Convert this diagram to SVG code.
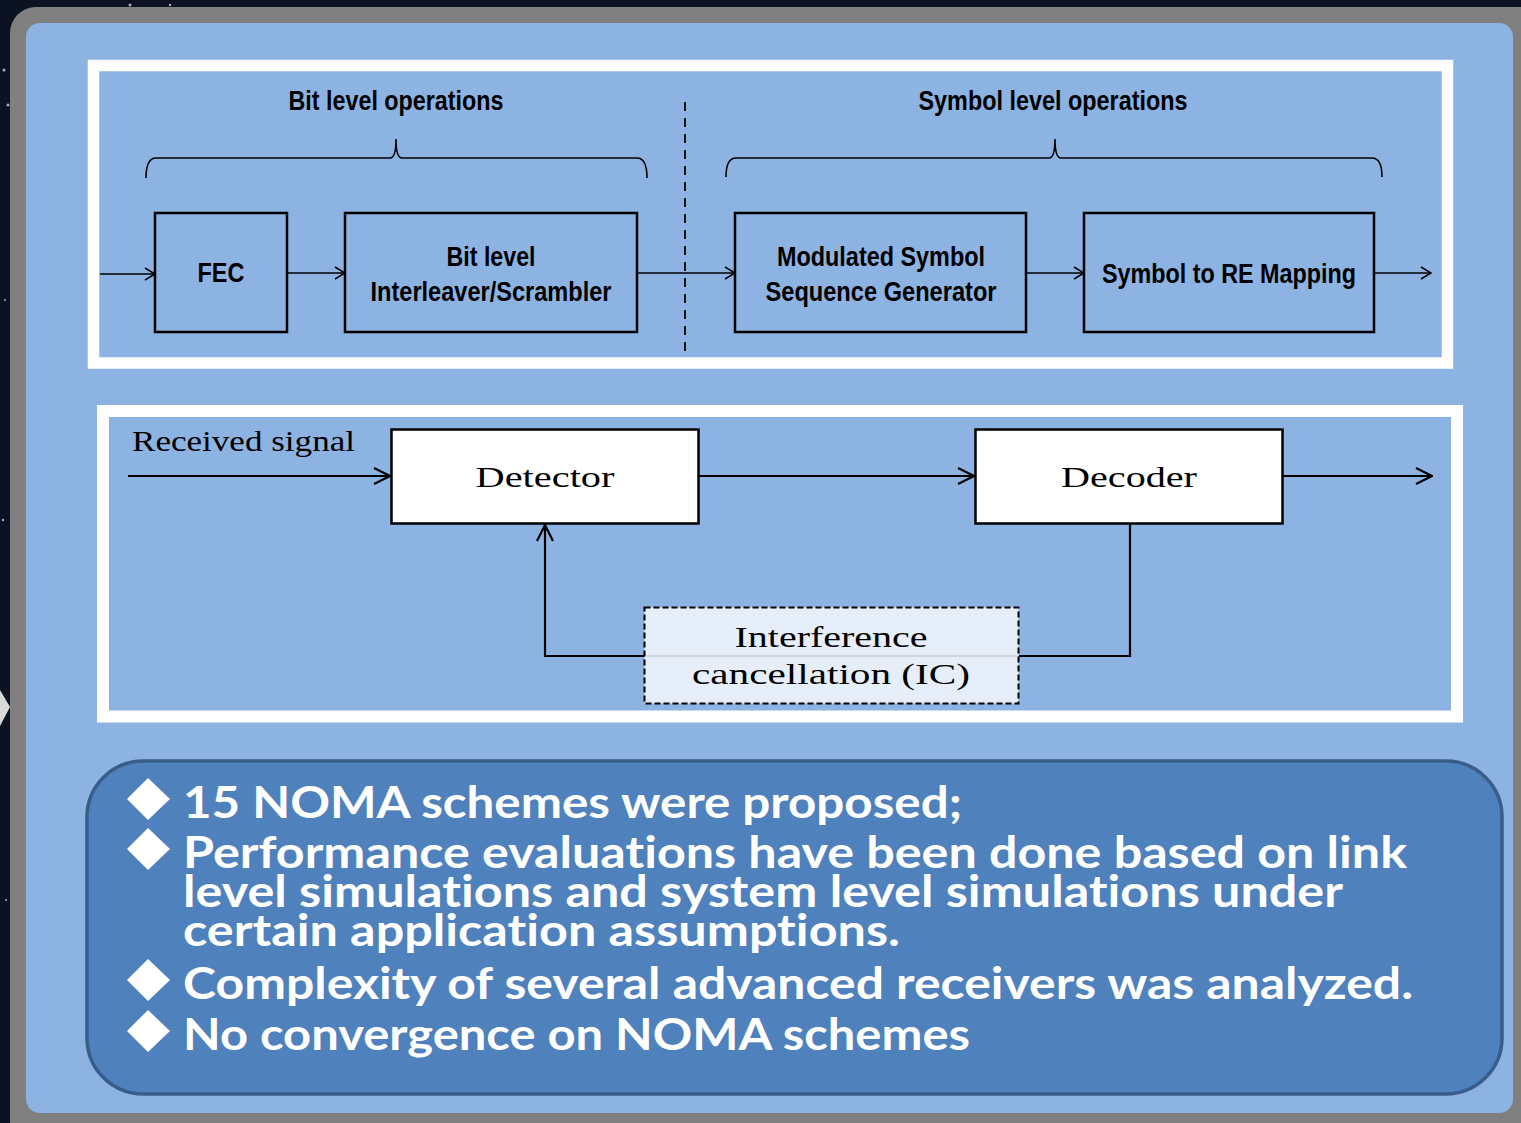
<svg xmlns="http://www.w3.org/2000/svg" width="1521" height="1123" viewBox="0 0 1521 1123">
<defs>
<style>
.box{fill:none;stroke:#000;stroke-width:2.5}
.wbox{fill:#fff;stroke:#000;stroke-width:2.5}
.narrow{font-family:"Liberation Sans",Arial,sans-serif;font-weight:bold;font-size:27px;fill:#000;text-anchor:middle}
.serif{font-family:"Liberation Serif","Times New Roman",serif;font-size:29px;fill:#000}
.bul{font-family:Lato,"Open Sans","Liberation Sans",sans-serif;font-weight:bold;font-size:44px;fill:#fff;font-variant-ligatures:none}
.line1{fill:none;stroke:#000;stroke-width:1.6}
.line2{fill:none;stroke:#000;stroke-width:2.2}
</style>
<marker id="a1" markerWidth="12" markerHeight="14" refX="11" refY="7" orient="auto" markerUnits="userSpaceOnUse">
<path d="M1,1 L11,7 L1,13" fill="none" stroke="#000" stroke-width="1.5"/>
</marker>
<marker id="a2" markerWidth="18" markerHeight="18" refX="17" refY="9" orient="auto" markerUnits="userSpaceOnUse">
<path d="M1,1 L17,9 L1,17" fill="none" stroke="#000" stroke-width="2.2"/>
</marker>
</defs>
<rect x="0" y="0" width="1521" height="1123" fill="#0b1322"/>
<g fill="#9fb0c8">
<circle cx="130" cy="5" r="1.5"/><circle cx="170" cy="5" r="1.2"/><circle cx="4" cy="70" r="1.5"/><circle cx="8" cy="105" r="1.5"/><circle cx="3" cy="520" r="1.2"/><circle cx="5" cy="300" r="1"/><circle cx="6" cy="900" r="1"/>
</g>
<polygon points="0,690 10,707 0,726" fill="#d9d9d9"/>
<rect x="10" y="7" width="1540" height="1140" rx="26" fill="#808080"/>
<rect x="26" y="23" width="1487" height="1090" rx="14" fill="#8db3e2"/>

<g id="tx-panel">
<rect x="93.5" y="65.5" width="1354" height="297.5" fill="#8db3e2" stroke="#fff" stroke-width="11.5"/>
</g>
<g id="rx-panel">
<rect x="103" y="411" width="1354" height="305.5" fill="#8db3e2" stroke="#fff" stroke-width="12"/>
</g>

<g id="connectors">
<path class="line1" d="M146,178 Q146,158 156,158 L390,158 Q396,158 396,139 Q396,158 402,158 L637,158 Q647,158 647,178"/>
<path class="line1" d="M726,177 Q726,158 736,158 L1049,158 Q1055,158 1055,139 Q1055,158 1061,158 L1372,158 Q1382,158 1382,177"/>
<line x1="685" y1="102" x2="685" y2="353" stroke="#000" stroke-width="1.8" stroke-dasharray="9,7"/>
<line class="line1" x1="100" y1="274" x2="155" y2="274" marker-end="url(#a1)"/>
<line class="line1" x1="287" y1="273" x2="345" y2="273" marker-end="url(#a1)"/>
<line class="line1" x1="637" y1="273" x2="735" y2="273" marker-end="url(#a1)"/>
<line class="line1" x1="1026" y1="273" x2="1084" y2="273" marker-end="url(#a1)"/>
<line class="line1" x1="1374" y1="273" x2="1431" y2="273" marker-end="url(#a1)"/>
<line class="line2" x1="128" y1="476" x2="390" y2="476" marker-end="url(#a2)"/>
<line class="line2" x1="699" y1="476" x2="974" y2="476" marker-end="url(#a2)"/>
<line class="line2" x1="1283" y1="476" x2="1432" y2="476" marker-end="url(#a2)"/>
<polyline class="line2" points="1130,524 1130,656 1019,656"/>
<polyline class="line2" points="644,656 545,656 545,525" marker-end="url(#a2)"/>
</g>

<g id="bit-label"><text class="narrow" x="396" y="110" textLength="215" lengthAdjust="spacingAndGlyphs">Bit level operations</text></g>
<g id="sym-label"><text class="narrow" x="1053" y="110" textLength="269" lengthAdjust="spacingAndGlyphs">Symbol level operations</text></g>

<g id="fec">
<rect class="box" x="155" y="213" width="132" height="119"/>
<text class="narrow" x="221" y="282" textLength="47" lengthAdjust="spacingAndGlyphs">FEC</text>
</g>
<g id="interleaver">
<rect class="box" x="345" y="213" width="292" height="119"/>
<text class="narrow" x="491" y="266" textLength="89" lengthAdjust="spacingAndGlyphs">Bit level</text>
<text class="narrow" x="491" y="301" textLength="241" lengthAdjust="spacingAndGlyphs">Interleaver/Scrambler</text>
</g>
<g id="modulated">
<rect class="box" x="735" y="213" width="291" height="119"/>
<text class="narrow" x="881" y="266" textLength="208" lengthAdjust="spacingAndGlyphs">Modulated Symbol</text>
<text class="narrow" x="881" y="301" textLength="231" lengthAdjust="spacingAndGlyphs">Sequence Generator</text>
</g>
<g id="re-mapping">
<rect class="box" x="1084" y="213" width="290" height="119"/>
<text class="narrow" x="1229" y="283" textLength="254" lengthAdjust="spacingAndGlyphs">Symbol to RE Mapping</text>
</g>

<g id="received-label"><text class="serif" x="132" y="451" textLength="223" lengthAdjust="spacingAndGlyphs">Received signal</text></g>
<g id="detector">
<rect class="wbox" x="391.5" y="429.5" width="307" height="94"/>
<text class="serif" x="545" y="487" text-anchor="middle" textLength="139" lengthAdjust="spacingAndGlyphs">Detector</text>
</g>
<g id="decoder">
<rect class="wbox" x="975.5" y="429.5" width="307" height="94"/>
<text class="serif" x="1129" y="487" text-anchor="middle" textLength="136" lengthAdjust="spacingAndGlyphs">Decoder</text>
</g>
<g id="ic">
<rect x="644.5" y="607.5" width="374" height="96" fill="#e6eef9" stroke="#000" stroke-width="2" stroke-dasharray="6,3"/>
<line x1="646" y1="656" x2="1017" y2="656" stroke="#c8ccd2" stroke-width="1.5"/>
<text class="serif" x="831" y="647" text-anchor="middle" textLength="193" lengthAdjust="spacingAndGlyphs">Interference</text>
<text class="serif" x="831" y="684" text-anchor="middle" textLength="278" lengthAdjust="spacingAndGlyphs">cancellation (IC)</text>
</g>

<g id="bullets">
<rect x="87" y="761" width="1415" height="333" rx="56" fill="#4f81bd" stroke="#385d8a" stroke-width="3.5"/>
<g fill="#fff">
<polygon points="148,778 170,799 148,820 127,799"/>
<polygon points="148,828 170,849 148,870 127,849"/>
<polygon points="148,959 170,980 148,1001 127,980"/>
<polygon points="148,1010 170,1031 148,1052 127,1031"/>
</g>
<text class="bul" x="183" y="818" textLength="779" lengthAdjust="spacingAndGlyphs">15 NOMA schemes were proposed;</text>
<text class="bul" x="183" y="868" textLength="1224" lengthAdjust="spacingAndGlyphs">Performance evaluations have been done based on link</text>
<text class="bul" x="183" y="907" textLength="1160" lengthAdjust="spacingAndGlyphs">level simulations and system level simulations under</text>
<text class="bul" x="183" y="946" textLength="717" lengthAdjust="spacingAndGlyphs">certain application assumptions.</text>
<text class="bul" x="183" y="999" textLength="1230" lengthAdjust="spacingAndGlyphs">Complexity of several advanced receivers was analyzed.</text>
<text class="bul" x="183" y="1050" textLength="787" lengthAdjust="spacingAndGlyphs">No convergence on NOMA schemes</text>
</g>
</svg>
